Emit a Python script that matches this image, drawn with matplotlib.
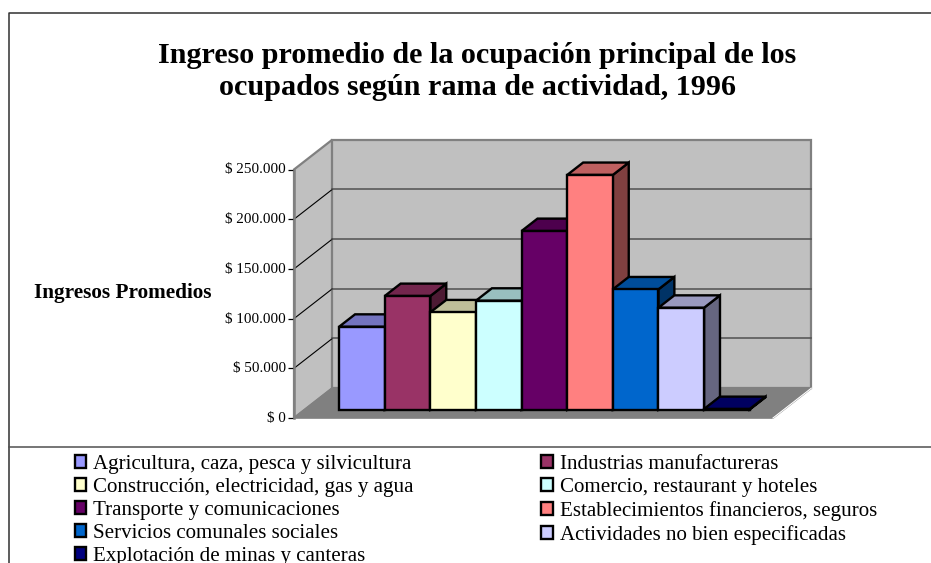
import matplotlib
matplotlib.use('Agg')
import matplotlib.pyplot as plt
from matplotlib.colors import to_rgb
from matplotlib.lines import Line2D
from matplotlib.patches import Patch, Polygon
from matplotlib.transforms import ScaledTranslation

plt.rcParams['font.family'] = ['Liberation Serif', 'DejaVu Serif']

title = 'Ingreso promedio de la ocupación principal de los\nocupados según rama de actividad, 1996'
y_label = 'Ingresos Promedios'
ramas = ['Agricultura, caza, pesca y silvicultura', 'Industrias manufactureras',
         'Construcción, electricidad, gas y agua', 'Comercio, restaurant y hoteles',
         'Transporte y comunicaciones', 'Establecimientos financieros, seguros',
         'Servicios comunales sociales', 'Actividades no bien especificadas',
         'Explotación de minas y canteras']
ingresos = [83300, 114200, 97800, 109500, 179600, 236000, 120900, 102400, 500]
colores = ['#9999FF', '#993366', '#FFFFCC', '#CCFFFF', '#660066',
           '#FF8080', '#0066CC', '#CCCCFF', '#000080']
y_ticks = [0, 50000, 100000, 150000, 200000, 250000]
y_tick_labels = ['$ 0', '$ 50.000', '$ 100.000', '$ 150.000', '$ 200.000', '$ 250.000']

W, H = 931, 563
# oblique projection: how far the back of the floor shifts, in data units
DEPTH_X = 0.84
DEPTH_Y = 30000
GAP = 0.75
BAR_FRONT = 0.285
BAR_BACK = 0.70
X_MAX = len(ramas) + 2 * GAP
Y_MAX = y_ticks[-1]


def proj(x, y, d):
    return (x + d * DEPTH_X, y + d * DEPTH_Y)


def shade(color, k):
    return tuple(c * k for c in to_rgb(color))


fig = plt.figure(figsize=(W / 100, H / 100), dpi=100)
ax = fig.add_axes([294 / W, (H - 418) / H, 479 / W, 248.5 / H])
ax.set_xlim(0, X_MAX)
ax.set_ylim(0, Y_MAX)
ax.patch.set_visible(False)

# walls and floor
side = [proj(0, 0, 0), proj(0, Y_MAX, 0), proj(0, Y_MAX, 1), proj(0, 0, 1)]
back = [proj(0, 0, 1), proj(0, Y_MAX, 1), proj(X_MAX, Y_MAX, 1), proj(X_MAX, 0, 1)]
floor = [proj(0, 0, 0), proj(0, 0, 1), proj(X_MAX, 0, 1), proj(X_MAX, 0, 0)]
ax.add_patch(Polygon(side, fc='#C0C0C0', ec='#808080', lw=1.6, clip_on=False, zorder=1))
ax.add_patch(Polygon(back, fc='#C0C0C0', ec='#808080', lw=1.6, clip_on=False, zorder=1))
ax.add_patch(Polygon(floor, fc='#808080', ec='#808080', lw=1.2, clip_on=False, zorder=2))
ax.plot(*zip(proj(X_MAX, 0, 0), proj(X_MAX, 0, 1)), color='white', lw=0.8, clip_on=False, zorder=2)

for t in y_ticks[1:-1]:
    ax.plot(*zip(proj(0, t, 0), proj(0, t, 1)), color='black', lw=0.8, clip_on=False, zorder=2)
    ax.plot(*zip(proj(0, t, 1), proj(X_MAX, t, 1)), color='#505050', lw=1.1, clip_on=False, zorder=2)

# bars, left to right so each one covers the side of the previous
for i, (v, c) in enumerate(zip(ingresos, colores)):
    x0 = i + GAP
    x1 = x0 + 1
    z = 3 + i
    f0 = proj(x0, 0, BAR_FRONT)
    ax.bar(f0[0], v, width=1, bottom=f0[1], align='edge', color=c, edgecolor='black',
           linewidth=1.7, clip_on=False, zorder=z + 0.1)
    top = [proj(x0, v, BAR_FRONT), proj(x0, v, BAR_BACK), proj(x1, v, BAR_BACK), proj(x1, v, BAR_FRONT)]
    lado = [proj(x1, 0, BAR_FRONT), proj(x1, v, BAR_FRONT), proj(x1, v, BAR_BACK), proj(x1, 0, BAR_BACK)]
    ax.add_patch(Polygon(lado, fc=shade(c, 0.5), ec='black', lw=1.7, clip_on=False, zorder=z))
    ax.add_patch(Polygon(top, fc=shade(c, 0.75), ec='black', lw=1.7, clip_on=False, zorder=z))

ax.set_xticks([])
ax.set_yticks(y_ticks)
ax.set_yticklabels(y_tick_labels, fontsize=10.9)
ax.tick_params(axis='y', length=4, width=0.9, pad=2, color='black')
for lab in ax.get_yticklabels():
    lab.set_transform(lab.get_transform() + ScaledTranslation(0, 1 / 100, fig.dpi_scale_trans))
for s in ['top', 'right', 'bottom']:
    ax.spines[s].set_visible(False)
ax.spines['left'].set_color('#808080')
ax.spines['left'].set_linewidth(1.8)
ax.spines['left'].set_zorder(2)

# frame of the chart area
fig.add_artist(Line2D([8.5 / W, 8.5 / W, 1], [0, 1 - 12.5 / H, 1 - 12.5 / H], color='#303030', lw=1.1))
fig.add_artist(Line2D([8.5 / W, 1], [1 - 446.5 / H, 1 - 446.5 / H], color='#505050', lw=1.1))

fig.text(477.5 / W, 1 - 71.5 / H, title, ha='center', va='center', fontsize=21.7, fontweight='bold', linespacing=1.25)
fig.text(34 / W, 1 - 293 / H, y_label, ha='left', va='center', fontsize=15.3, fontweight='bold')

# legend fills by column, so reorder to keep the reading order across rows
orden = [0, 2, 4, 6, 8, 1, 3, 5, 7]
handles = [Patch(facecolor=colores[i], edgecolor='black', linewidth=1.7, label=ramas[i]) for i in orden]
fig.legend(handles=handles, ncol=2, loc='upper left', bbox_to_anchor=(74.5 / W, 1 - 455 / H),
           frameon=False, fontsize=15.1, handlelength=0.56, handleheight=0.56, handletextpad=0.33,
           columnspacing=6.07, labelspacing=0.19, borderpad=0, borderaxespad=0)

fig.savefig('out.png', dpi=100)
